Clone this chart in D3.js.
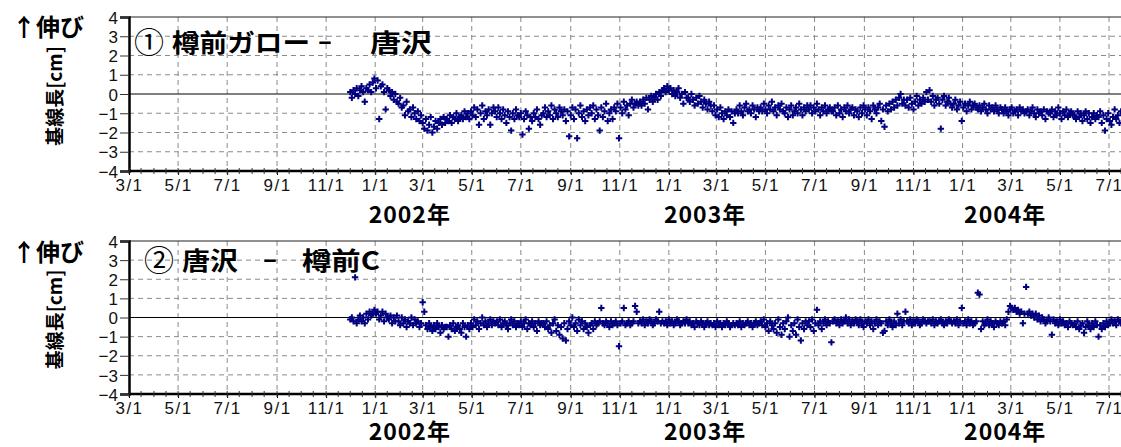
<!DOCTYPE html>
<html>
<head>
<meta charset="utf-8">
<script src="https://cdn.jsdelivr.net/npm/d3@7"></script>
<style>
body { margin: 0; background: #fff; }
text { font-family: "Liberation Sans", Arial, sans-serif; }
.jp { font-family: "Noto Sans CJK JP", sans-serif; font-weight: bold; }
</style>
</head>
<body>
<div id="canvas"></div>
<script>
_width = 1121;
_height = 447;

// x axis range and tick labels
var _xStart = new Date(2001, 2, 1);
var _xEnd = new Date(2004, 6, 1);
var _yTicks = [4, 3, 2, 1, 0, -1, -2, -3, -4];
var _years = ["2002年", "2003年", "2004年"];
var _yearDates = [new Date(2002, 1, 13), new Date(2003, 1, 15), new Date(2004, 1, 23)];

// observations: first one on 2001-12-01, then one every 2 days
var _obsStart = new Date(2001, 11, 1);
var _obsStep = 2;

// ① 樽前ガロー - 唐沢 [cm]
var _vals1 = [
  0.1, -0.2, 0.2, 0.0, 0.3, -0.1, 0.2, 0.4, 0.1, -0.4, 0.3, 0.2, 0.5, 0.1, 0.6,
  0.8, 0.3, 0.7, -1.3, 0.4, 0.5, 0.1, -0.8, 0.3, 0.2, -0.1, 0.1, -0.3, 0.0, -0.4,
  -0.5, -0.2, -0.7, -0.6, -1.1, -0.4, -0.9, -0.8, -1.2, -0.7, -1.0, -1.3, -0.9, -1.4, -1.1,
  -1.5, -1.8, -1.3, -1.9, -1.6, -1.2, -2.0, -1.7, -1.4, -1.8, -1.5, -1.3, -1.6, -1.2, -1.5,
  -1.3, -1.4, -1.1, -1.5, -1.2, -1.3, -1.0, -1.4, -1.2, -1.1, -1.3, -0.9, -1.2, -1.0, -1.3,
  -0.9, -1.1, -0.7, -1.2, -0.8, -1.6, -1.0, -0.6, -1.3, -0.9, -1.1, -0.8, -1.6, -1.0, -0.7,
  -0.9, -1.2, -0.7, -1.0, -1.3, -0.8, -1.1, -1.5, -0.9, -1.2, -1.9, -1.0, -1.3, -0.8, -1.1,
  -1.2, -1.0, -2.1, -1.3, -0.9, -1.1, -1.8, -1.2, -1.4, -1.0, -1.2, -0.8, -1.3, -1.6, -1.1,
  -1.0, -0.7, -1.2, -0.9, -1.1, -0.6, -1.3, -0.8, -1.0, -1.2, -0.7, -0.9, -1.1, -0.8, -1.4,
  -0.9, -2.2, -1.1, -0.7, -1.3, -0.8, -2.3, -1.0, -0.6, -1.2, -0.9, -1.4, -0.8, -1.1, -0.7,
  -1.0, -0.6, -1.3, -0.8, -1.1, -1.9, -0.7, -1.2, -0.9, -0.5, -1.4, -1.0, -0.8, -1.3, -0.7,
  -0.9, -0.5, -2.3, -0.7, -1.0, -0.4, -0.8, -0.6, -1.1, -0.5, -0.3, -0.7, -0.5, -0.4, -0.6,
  -0.4, -0.6, -0.3, -0.5, -0.2, -0.8, -0.3, -0.1, -0.4, -0.2, 0.0, -0.3, 0.1, -0.1, 0.2,
  0.3, 0.1, 0.4, 0.2, 0.3, 0.0, 0.2, -0.1, 0.1, 0.3, -0.2, 0.0, -0.5, 0.1, -0.2,
  -0.2, -0.4, 0.0, -0.3, -0.6, -0.2, -0.5, -0.1, -0.4, -0.7, -0.3, -0.5, -0.8, -0.4, -0.6,
  -0.9, -0.6, -1.1, -0.8, -1.2, -0.7, -1.0, -1.3, -0.9, -1.1, -0.8, -1.2, -0.9, -1.5, -1.0,
  -0.8, -1.0, -0.6, -0.9, -1.1, -0.7, -0.5, -0.9, -0.8, -1.0, -0.6, -0.8, -1.2, -0.7, -0.9,
  -0.7, -0.9, -0.5, -0.8, -1.0, -0.6, -0.8, -0.4, -0.9, -0.7, -1.1, -0.6, -0.8, -0.5, -0.9,
  -1.0, -0.7, -1.2, -0.8, -0.6, -1.1, -0.9, -0.7, -1.0, -0.5, -0.8, -1.1, -0.7, -0.9, -0.6,
  -0.8, -0.6, -1.0, -0.7, -0.9, -0.5, -0.8, -1.1, -0.7, -0.9, -0.6, -1.0, -0.8, -0.7, -0.9,
  -0.9, -0.7, -1.1, -0.6, -1.0, -0.8, -1.2, -0.7, -0.9, -0.6, -1.0, -0.8, -0.7, -1.1, -0.8,
  -0.9, -1.2, -0.7, -1.0, -0.6, -0.8, -1.1, -0.7, -0.9, -1.3, -0.6, -0.8, -1.0, -0.7, -0.5,
  -1.4, -0.8, -1.7, -0.6, -0.9, -0.5, -0.8, -0.4, -0.7, -0.3, -0.6, -0.2, 0.0, -0.5, -0.3,
  -0.6, -0.3, -0.7, -0.2, -0.5, -0.8, -0.4, -0.1, -0.6, -0.3, -0.5, -0.2, -0.4, 0.1, -0.3,
  0.2, -0.4, -0.1, -0.6, -0.3, -0.2, -0.5, -1.8, -0.3, -0.1, -0.6, -0.4, -0.2, -0.5, -0.7,
  -0.5, -0.3, -0.8, -0.6, -0.4, -1.4, -0.7, -0.5, -0.9, -0.6, -0.4, -0.8, -0.6, -0.5, -0.7,
  -0.8, -0.6, -0.9, -0.7, -0.5, -0.8, -1.0, -0.6, -0.8, -0.7, -0.9, -0.6, -0.8, -1.0, -0.7,
  -0.8, -1.0, -0.7, -0.9, -1.1, -0.8, -0.7, -1.0, -0.9, -0.8, -1.1, -0.7, -0.9, -0.8, -1.0,
  -0.9, -0.8, -1.1, -0.9, -0.7, -1.0, -1.2, -0.8, -1.0, -0.9, -1.1, -0.8, -1.3, -0.9, -1.0,
  -1.0, -0.8, -1.2, -0.9, -1.1, -0.7, -1.0, -1.3, -0.9, -1.1, -0.8, -1.2, -1.0, -0.9, -1.1,
  -1.1, -1.3, -0.9, -1.2, -1.0, -1.4, -1.1, -0.9, -1.3, -1.0, -1.5, -1.2, -1.0, -1.3, -1.1,
  -1.2, -0.9, -1.5, -1.1, -1.9, -1.3, -1.0, -1.4, -1.6, -1.2, -0.8, -1.3, -1.1, -1.5, -0.9,
  -1.0
];

// ② 唐沢 - 樽前C [cm]
var _vals2 = [
  -0.1, 0.0, -0.2, 2.1, -0.3, -0.1, 0.1, -0.2, 0.0, -0.3, 0.2, -0.1, 0.3, 0.1, 0.2,
  0.4, 0.2, 0.3, -0.1, 0.1, 0.3, -0.2, 0.2, 0.0, -0.1, 0.1, -0.3, 0.0, -0.2, 0.1,
  -0.2, -0.4, 0.0, -0.3, -0.1, -0.5, -0.2, -0.3, 0.0, -0.4, -0.1, -0.3, -0.2, -0.5, -0.3,
  0.8, 0.3, -0.4, -0.6, -0.3, -0.5, -0.7, -0.4, -0.6, -0.3, -0.5, -0.8, -0.4, -0.6, -0.5,
  -0.5, -1.0, -0.4, -0.6, -0.3, -0.7, -0.5, -0.4, -0.6, -0.8, -0.3, -0.5, -1.0, -0.4, -0.6,
  -0.3, -0.5, -0.1, -0.4, -0.2, -0.6, -0.3, 0.0, -0.4, -0.2, -0.5, -0.3, -0.1, -0.4, -0.2,
  -0.3, -0.2, -0.4, -0.1, -0.5, -0.3, -0.2, -0.4, -0.6, -0.3, -0.1, -0.4, -0.2, -0.5, -0.3,
  -0.4, -0.2, -0.5, -0.3, -0.1, -0.6, -0.3, -0.4, -0.2, -0.5, -0.3, -0.7, -0.2, -0.4, -0.3,
  -0.3, -0.5, -0.2, -0.6, -0.4, -0.8, -0.3, -0.1, -0.7, -0.4, -0.9, -0.5, -1.1, -0.3, -1.2,
  -0.6, -0.2, -0.4, 0.0, -0.5, -0.3, -0.7, -0.1, -0.4, -0.2, -0.6, -0.3, -0.5, -0.8, -0.4,
  -0.3, -0.6, -0.2, -0.4, -0.3, -0.2, 0.5, -0.3, -0.4, -0.2, -0.3, -0.5, -0.2, -0.4, -0.3,
  -0.2, -0.4, -1.5, -0.3, -0.2, 0.5, -0.4, -0.3, -0.2, -0.4, -0.3, -0.2, 0.6, 0.3, -0.3,
  -0.2, -0.3, -0.1, -0.4, -0.2, -0.3, -0.1, -0.2, -0.4, -0.3, -0.1, -0.2, 0.3, -0.3, -0.2,
  -0.3, -0.2, -0.4, -0.1, -0.3, -0.2, -0.4, -0.3, -0.1, -0.2, -0.4, -0.3, -0.2, -0.3, -0.1,
  -0.3, -0.2, -0.4, -0.3, -0.5, -0.2, -0.3, -0.4, -0.2, -0.3, -0.5, -0.3, -0.2, -0.4, -0.3,
  -0.4, -0.3, -0.5, -0.2, -0.4, -0.3, -0.5, -0.3, -0.4, -0.2, -0.3, -0.5, -0.4, -0.3, -0.4,
  -0.3, -0.4, -0.2, -0.5, -0.3, -0.4, -0.3, -0.2, -0.4, -0.3, -0.5, -0.3, -0.2, -0.4, -0.3,
  -0.2, -0.4, -0.1, -0.5, -0.3, -0.7, -0.2, -0.4, -0.6, -0.3, -0.8, -0.1, -0.5, -0.9, -0.3,
  -0.6, -0.2, 0.0, -1.0, -0.4, -0.7, -0.3, -0.9, -0.1, -0.5, -1.2, -0.3, -0.6, -0.2, -0.4,
  -0.2, -0.5, -0.1, -0.7, -0.3, 0.4, -0.4, -0.2, -0.6, -0.3, -0.1, -0.4, -0.2, -0.3, -1.3,
  -0.2, -0.1, -0.3, -0.2, -0.4, -0.1, -0.3, -0.2, 0.0, -0.3, -0.1, -0.4, -0.2, -0.3, -0.1,
  -0.2, -0.4, -0.1, -0.3, -0.5, -0.2, -0.3, -0.1, -0.4, -0.2, -0.6, -0.3, -0.1, -0.4, -0.2,
  -0.3, -0.8, -0.7, -0.2, -0.4, -0.1, -0.3, -0.5, -0.2, -0.4, 0.2, -0.3, -0.1, -0.4, -0.2,
  0.3, -0.2, -0.3, -0.1, -0.4, -0.2, -0.3, -0.1, -0.2, -0.4, -0.3, -0.1, -0.2, -0.3, -0.2,
  -0.2, -0.3, -0.1, -0.4, -0.2, -0.3, -0.2, -0.1, -0.3, -0.4, -0.2, -0.3, -0.1, -0.2, -0.3,
  -0.2, -0.3, -0.1, -0.4, -0.2, 0.5, -0.3, -0.2, -0.4, -0.1, -0.3, -0.2, -0.4, -0.3, -0.2,
  1.3, 1.2, -0.6, -0.2, -0.4, -0.3, -0.1, -0.4, -0.2, -0.3, -0.5, -0.2, -0.3, -0.4, -0.2,
  -0.3, -0.2, -0.4, -0.1, 0.3, 0.6, 0.5, 0.4, 0.5, 0.3, 0.4, 0.2, 0.3, -0.3, 0.2,
  1.6, 0.2, 0.3, 0.1, 0.2, 0.0, 0.2, -0.1, 0.1, -0.2, 0.0, -0.1, -0.3, -0.2, 0.0,
  -0.2, -0.9, -0.1, -0.3, -0.2, -0.4, -0.1, -0.3, -0.2, -0.4, -0.3, -0.5, -0.2, -0.3, -0.4,
  -0.3, -0.5, -0.2, -0.6, -0.4, -0.3, -0.8, -0.5, -0.2, -0.4, -0.6, -0.3, -0.5, -0.2, -0.4,
  -1.0, -0.4, -0.6, -0.3, -0.5, -0.2, -0.4, -0.3, -0.1, -0.3, -0.2, -0.4, -0.1, -0.2, -0.3,
  -0.2
];

var _panels = [
    {vals: _vals1, top: 17, bottom: 171, titleY: 43, mark: "①", t: ["樽前ガロー", "－", "唐沢"],
     tx: [134, 172, 317, 370], tw: [138, 16, 62], labY: 27, yearY: 223},
    {vals: _vals2, top: 241, bottom: 394, titleY: 261, mark: "②", t: ["唐沢", "－", "樽前C"],
     tx: [144, 182, 262, 302], tw: [56, 16, 78], labY: 252, yearY: 440}
];

var _left = 129;
var _right = 1109;

function init() {
    var svg = d3.select('#canvas').append('svg')
        .attr('width', _width)
        .attr('height', _height)
        .style('background', '#fff');

    var x = d3.scaleTime().domain([_xStart, _xEnd]).range([_left, _right]);
    var plotEnd = x.invert(_width + 2);
    var majors = d3.timeMonth.every(2).range(_xStart, plotEnd);
    var minors = d3.timeDay.filter(function (d) { return d.getDate() == 1 || d.getDate() == 16; })
        .range(_xStart, plotEnd);

    _panels.forEach(function (p, k) {
        var y = d3.scaleLinear().domain([-4, 4]).range([p.bottom, p.top]);
        var g = svg.append('g');

        g.append('clipPath').attr('id', 'clip' + k).append('rect')
            .attr('x', _left).attr('y', p.top - 4)
            .attr('width', _width - _left).attr('height', p.bottom - p.top + 8);

        // dashed grid
        g.selectAll('line.vg').data(majors.slice(1)).enter().append('line')
            .attr('x1', function (d) { return x(d); })
            .attr('x2', function (d) { return x(d); })
            .attr('y1', p.top).attr('y2', p.bottom)
            .style('stroke', '#8a8a8a').style('stroke-width', 1)
            .style('stroke-dasharray', '5,4');
        g.selectAll('line.hg').data(_yTicks.filter(function (v) { return v != 0 && v != 4 && v != -4; }))
            .enter().append('line')
            .attr('x1', _left).attr('x2', _width)
            .attr('y1', function (d) { return y(d); })
            .attr('y2', function (d) { return y(d); })
            .style('stroke', '#8a8a8a').style('stroke-width', 1)
            .style('stroke-dasharray', '5,4');

        // zero line and top edge
        g.append('line').attr('x1', _left).attr('x2', _width)
            .attr('y1', y(0)).attr('y2', y(0))
            .style('stroke', '#000').style('stroke-width', 1.2);
        g.append('line').attr('x1', _left).attr('x2', _width)
            .attr('y1', y(4)).attr('y2', y(4))
            .style('stroke', '#222').style('stroke-width', 1.2);

        // y axis
        var ya = d3.axisLeft(y).tickValues(_yTicks).tickSize(9).tickPadding(3)
            .tickFormat(function (d) { return d < 0 ? "\u2212" + (-d) : d; });
        var yg = g.append('g').attr('transform', 'translate(' + _left + ',0)').call(ya);
        yg.select('.domain').style('stroke', '#000').style('stroke-width', 2.5);
        yg.selectAll('.tick line').style('stroke', '#333');
        yg.selectAll('text').style('font-size', '17px').style('fill', '#111')
            .attr('x', -11).attr('dy', '0.36em');

        // x axis
        var xa = d3.axisBottom(x).tickValues(majors).tickSize(4).tickPadding(4)
            .tickFormat(d3.timeFormat('%-m/%-d'));
        var xg = g.append('g').attr('transform', 'translate(0,' + p.bottom + ')').call(xa);
        xg.select('.domain').remove();
        xg.append('line').attr('x1', _left).attr('x2', _width)
            .style('stroke', '#000').style('stroke-width', 2.5);
        xg.selectAll('text').style('font-size', '17px').style('fill', '#111')
            .style('letter-spacing', '1.5px');
        xg.selectAll('line.mn').data(minors).enter().append('line')
            .attr('x1', function (d) { return x(d); })
            .attr('x2', function (d) { return x(d); })
            .attr('y1', -3).attr('y2', 3)
            .style('stroke', '#333').style('stroke-width', 1);

        // years
        g.selectAll('text.yr').data(_years).enter().append('text')
            .attr('class', 'jp')
            .attr('x', function (d, i) { return x(_yearDates[i]); })
            .attr('y', p.yearY)
            .attr('text-anchor', 'middle')
            .style('font-size', '23px')
            .style('letter-spacing', '1px')
            .text(function (d) { return d; });

        // side labels
        g.append('text').attr('class', 'jp')
            .attr('x', 12).attr('y', p.labY + 9)
            .style('font-size', '24px')
            .text('↑伸び');
        g.append('text').attr('class', 'jp')
            .attr('transform', 'translate(' + 62 + ',' + ((p.top + p.bottom) / 2 + 2) + ') rotate(-90)')
            .attr('text-anchor', 'middle')
            .style('font-size', '19px')
            .text('基線長[cm]');

        // title
        g.append('text').attr('class', 'jp')
            .attr('x', p.tx[0]).attr('y', p.titleY + 10)
            .style('font-size', '30px').style('font-weight', 'normal')
            .text(p.mark);
        p.t.forEach(function (s, i) {
            g.append('text').attr('class', 'jp')
                .attr('x', p.tx[i + 1]).attr('y', p.titleY + 9)
                .attr('textLength', p.tw[i])
                .attr('lengthAdjust', 'spacingAndGlyphs')
                .style('font-size', '25px')
                .text(s);
        });

        // observations
        g.append('g').attr('clip-path', 'url(#clip' + k + ')')
            .selectAll('path').data(p.vals).enter().append('path')
            .attr('transform', function (d, i) {
                return 'translate(' + x(d3.timeDay.offset(_obsStart, i * _obsStep)) + ',' + y(d) + ')';
            })
            .attr('d', 'M-3.2,0H3.2M0,-3.2V3.2')
            .style('stroke', '#000080')
            .style('stroke-width', 2);
    });
}

init();
</script>
</body>
</html>
